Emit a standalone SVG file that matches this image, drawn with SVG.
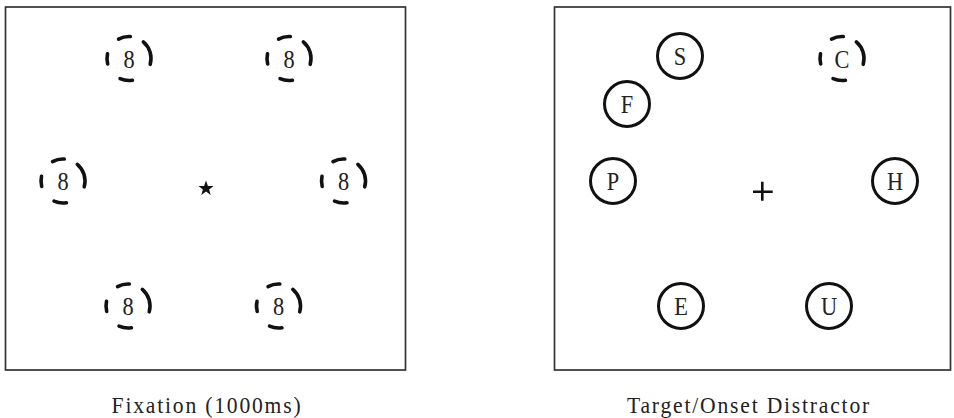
<svg xmlns="http://www.w3.org/2000/svg" xmlns:xlink="http://www.w3.org/1999/xlink" width="954" height="418" viewBox="0 0 954 418">
<style>
.panel{fill:#fff;stroke:#333;stroke-width:1.7}
.ring{fill:none;stroke:#111;stroke-width:3.6;stroke-linecap:round}
.solid{fill:#fff;stroke:#111;stroke-width:3}
.lbl{font-family:"Liberation Serif","Times New Roman",serif;font-size:26px;fill:#222;text-anchor:middle}
.cap{font-family:"Liberation Serif","Times New Roman",serif;font-size:24px;fill:#222;text-anchor:middle;letter-spacing:2px}
</style>
<defs>
<path id="ring" class="ring" d="M14.35,-16.68 A22,22 0 0 1 21.22,5.81 M3.44,21.73 A22,22 0 0 1 -8.95,20.10 M-21.32,5.43 A22,22 0 0 1 -21.49,-4.69 M-10.43,-19.37 A22,22 0 0 1 1.27,-21.96"/>
</defs>
<rect x="0" y="0" width="954" height="418" fill="#fff"/>
<g id="panel-fixation">
<rect class="panel" x="5.5" y="7" width="400" height="363"/>
</g>
<g id="panel-target">
<rect class="panel" x="554.5" y="7" width="396" height="363"/>
</g>
<g id="fix-1"><use xlink:href="#ring" x="129" y="58.5"/><text class="lbl" transform="translate(129,67.5) scale(0.86,1)">8</text></g>
<g id="fix-2"><use xlink:href="#ring" x="289" y="58.5"/><text class="lbl" transform="translate(289,67.5) scale(0.86,1)">8</text></g>
<g id="fix-3"><use xlink:href="#ring" x="63" y="181"/><text class="lbl" transform="translate(63,190) scale(0.86,1)">8</text></g>
<g id="fix-4"><use xlink:href="#ring" x="343.5" y="181"/><text class="lbl" transform="translate(343.5,190) scale(0.86,1)">8</text></g>
<g id="fix-5"><use xlink:href="#ring" x="128" y="306"/><text class="lbl" transform="translate(128,315) scale(0.86,1)">8</text></g>
<g id="fix-6"><use xlink:href="#ring" x="278.5" y="306"/><text class="lbl" transform="translate(278.5,315) scale(0.86,1)">8</text></g>
<g id="star"><polygon fill="#111" points="206,180.5 207.9,185.9 213.6,186 209.1,189.4 210.7,194.9 206,191.6 201.3,194.9 202.9,189.4 198.4,186 204.1,185.9"/></g>
<g id="tgt-S"><circle class="solid" cx="680" cy="56" r="22.5"/><text class="lbl" transform="translate(680,65) scale(0.86,1)">S</text></g>
<g id="tgt-C"><use xlink:href="#ring" x="842" y="58.5"/><text class="lbl" transform="translate(842,67.5) scale(0.86,1)">C</text></g>
<g id="tgt-F"><circle class="solid" cx="627" cy="104" r="22.5"/><text class="lbl" transform="translate(627,113) scale(0.86,1)">F</text></g>
<g id="tgt-P"><circle class="solid" cx="613" cy="181" r="22.5"/><text class="lbl" transform="translate(613,190) scale(0.86,1)">P</text></g>
<g id="tgt-H"><circle class="solid" cx="895" cy="181" r="22.5"/><text class="lbl" transform="translate(895,190) scale(0.86,1)">H</text></g>
<g id="tgt-E"><circle class="solid" cx="681" cy="306" r="22.5"/><text class="lbl" transform="translate(681,315) scale(0.86,1)">E</text></g>
<g id="tgt-U"><circle class="solid" cx="829" cy="306" r="22.5"/><text class="lbl" transform="translate(829,315) scale(0.86,1)">U</text></g>
<g id="plus"><path d="M753,191.7 H772.7 M762.3,181.7 V200.7" stroke="#111" stroke-width="2.6" fill="none"/></g>
<g id="connectors"></g>
<text class="cap" transform="translate(207,413) scale(0.9,1)">Fixation (1000ms)</text>
<text class="cap" transform="translate(749,413) scale(0.9,1)">Target/Onset Distractor</text>
</svg>
